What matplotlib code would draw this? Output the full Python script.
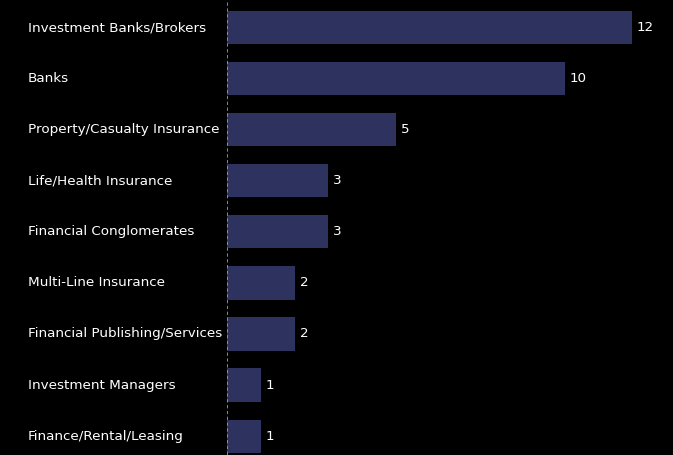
import matplotlib.pyplot as plt
import matplotlib.transforms as mtransforms

categories = [
    "Investment Banks/Brokers",
    "Banks",
    "Property/Casualty Insurance",
    "Life/Health Insurance",
    "Financial Conglomerates",
    "Multi-Line Insurance",
    "Financial Publishing/Services",
    "Investment Managers",
    "Finance/Rental/Leasing",
]
counts = [12, 10, 5, 3, 3, 2, 2, 1, 1]

bar_color = "#2d335e"

fig = plt.figure(figsize=(6.73, 4.55), dpi=100, facecolor="black")
ax = fig.add_axes([227 / 673, 0, 1 - 227 / 673, 1])
ax.set_facecolor("black")

pos = list(range(len(categories)))
ax.barh(pos, counts, height=0.65, color=bar_color)
ax.set_ylim(8.37, -0.54)
ax.set_xlim(0, (673 - 227) / 33.75)

# value labels
for y, v in zip(pos, counts):
    ax.text(v + 0.15, y, str(v), color="white", fontsize=9.7, va="center", ha="left")

# category labels, left aligned in the figure margin
trans = mtransforms.blended_transform_factory(fig.transFigure, ax.transData)
for y, name in zip(pos, categories):
    ax.text(28 / 673, y, name, transform=trans, color="white", fontsize=9.7,
            va="center", ha="left")

ax.axvline(0, color="#a0a0a0", linewidth=1.2, linestyle=(0, (2, 1.5)))

for s in ax.spines.values():
    s.set_visible(False)
ax.set_xticks([])
ax.set_yticks([])

fig.savefig("out.png", dpi=100, facecolor="black")
